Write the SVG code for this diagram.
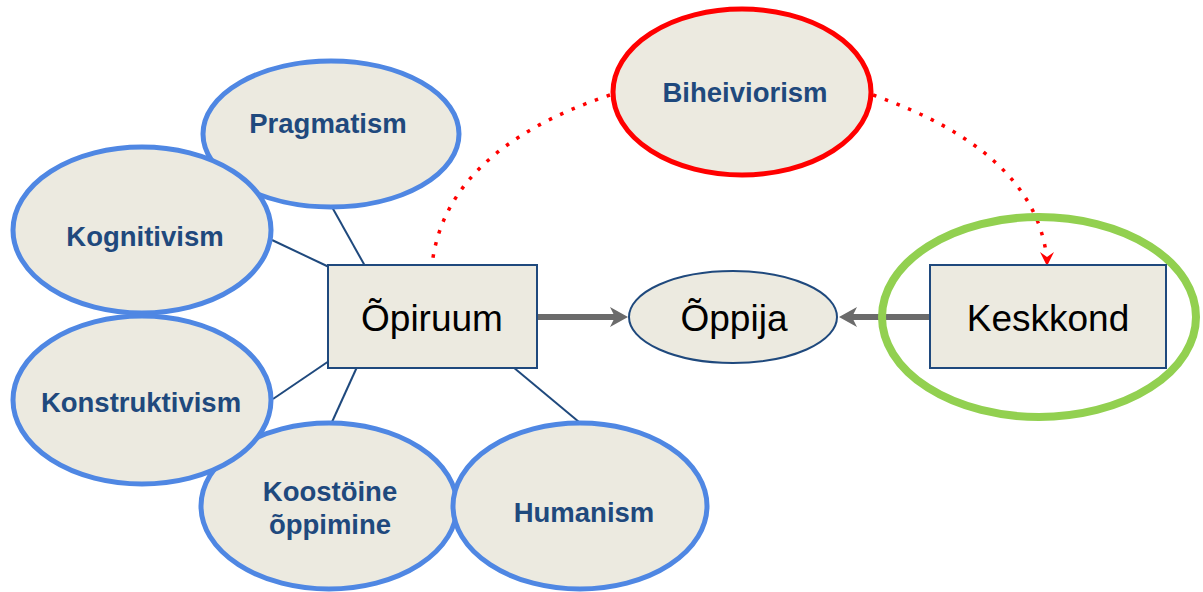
<svg xmlns="http://www.w3.org/2000/svg" width="1203" height="592" viewBox="0 0 1203 592">
<defs>
<style>
.bl{fill:#ECEAE0;stroke:#4F87E3;stroke-width:5}
.lb{font-family:"Liberation Sans",Arial,sans-serif;font-weight:bold;font-size:27.5px;fill:#1F497D;text-anchor:middle}
.big{font-family:"Liberation Sans",Arial,sans-serif;font-size:37px;fill:#000;text-anchor:middle}
.box{fill:#ECEAE0;stroke:#1F497D;stroke-width:2}
.ln{stroke:#1F497D;stroke-width:2;fill:none}
.dot{stroke:#FF0000;stroke-width:3.5;fill:none;stroke-dasharray:3.5 9}
.gr{stroke:#6B6B6B;stroke-width:6;fill:none}
</style>
<marker id="ra" markerWidth="12" markerHeight="12" refX="6" refY="10" orient="auto" markerUnits="userSpaceOnUse" viewBox="0 0 12 12">
<path d="M0,0 L6,12 L12,0 L6,4 Z" fill="#FF0000" transform="rotate(0)"/>
</marker>
</defs>
<rect width="1203" height="592" fill="#fff"/>
<g id="connectors">
<line class="ln" x1="332" y1="207" x2="365" y2="266"/>
<line class="ln" x1="272" y1="240" x2="329" y2="267"/>
<line class="ln" x1="273" y1="399" x2="329" y2="361"/>
<line class="ln" x1="332" y1="422" x2="357" y2="367"/>
<line class="ln" x1="579" y1="422" x2="513" y2="367"/>
<path class="dot" d="M610 95 Q445 150 432 265"/>
<path class="dot" d="M873 95 Q1030 150 1046 252"/>
<path d="M1040,252 L1047,266 L1054,252 L1047,257 Z" fill="#FF0000"/>
<line class="gr" x1="537" y1="317" x2="616" y2="317"/>
<path d="M628,317 L610,307 L615,317 L610,327 Z" fill="#6B6B6B"/>
<line class="gr" x1="930" y1="317" x2="851" y2="317"/>
<path d="M839,317 L857,307 L852,317 L857,327 Z" fill="#6B6B6B"/>
</g>
<g id="pragmatism"><ellipse class="bl" cx="331" cy="134" rx="128" ry="73"/><text class="lb" x="328" y="133">Pragmatism</text></g>
<g id="kognitivism"><ellipse class="bl" cx="142" cy="230" rx="129" ry="83"/><text class="lb" x="145" y="246">Kognitivism</text></g>
<g id="koostoine"><ellipse class="bl" cx="329" cy="506" rx="128" ry="83"/><text class="lb" x="330" y="501">Koostöine</text><text class="lb" x="330" y="534">õppimine</text></g>
<g id="konstruktivism"><ellipse class="bl" cx="142" cy="400" rx="129" ry="84"/><text class="lb" x="141" y="412">Konstruktivism</text></g>
<g id="humanism"><ellipse class="bl" cx="580" cy="506" rx="127" ry="83"/><text class="lb" x="584" y="522">Humanism</text></g>
<g id="biheiviorism"><ellipse cx="742" cy="92" rx="129" ry="83" fill="#ECEAE0" stroke="#FF0000" stroke-width="5"/><text class="lb" x="745" y="102">Biheiviorism</text></g>
<g id="opiruum"><rect class="box" x="328" y="265" width="209" height="103"/><text class="big" x="432" y="331">Õpiruum</text></g>
<g id="oppija"><ellipse cx="733" cy="317" rx="104" ry="46" fill="#ECEAE0" stroke="#1F497D" stroke-width="2"/><text class="big" x="734" y="331">Õppija</text></g>
<g id="keskkond"><ellipse cx="1039" cy="317" rx="157" ry="100" fill="none" stroke="#92D050" stroke-width="8"/><rect class="box" x="930" y="265" width="236" height="103"/><text class="big" x="1048" y="331">Keskkond</text></g>
</svg>
